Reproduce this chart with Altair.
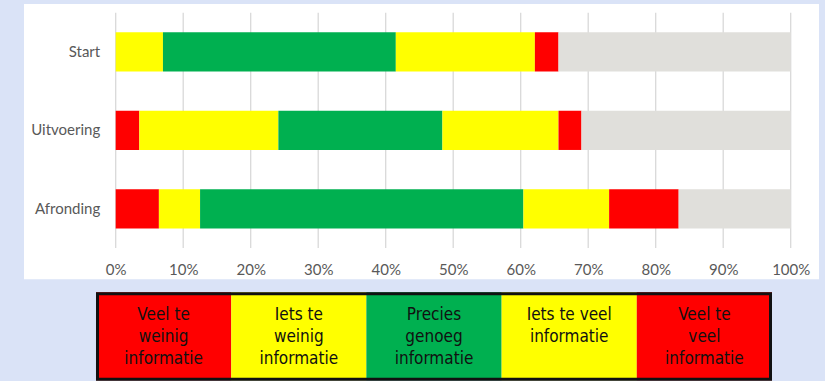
import altair as alt
import pandas as pd

phases = ["Start", "Uitvoering", "Afronding"]
segments = ["Veel te weinig", "Iets te weinig", "Precies genoeg", "Iets te veel", "Veel te veel", "Overig"]
seg_colors = ["#ff0000", "#ffff00", "#00b050", "#ffff00", "#ff0000", "#e0dfdb"]

start_vals = [0.0, 7.0, 34.5, 20.6, 3.5, 34.4]
uitvoering_vals = [3.5, 20.6, 24.3, 17.2, 3.4, 31.0]
afronding_vals = [6.4, 6.1, 47.9, 12.7, 10.3, 16.6]

tick_values = [0, 10, 20, 30, 40, 50, 60, 70, 80, 90, 100]

legend_labels = [
    "Veel te\nweinig\ninformatie",
    "Iets te\nweinig\ninformatie",
    "Precies\ngenoeg\ninformatie",
    "Iets te veel\ninformatie",
    "Veel te\nveel\ninformatie",
]
legend_colors = ["#ff0000", "#ffff00", "#00b050", "#ffff00", "#ff0000"]

rows = []
for ph, vals in zip(phases, [start_vals, uitvoering_vals, afronding_vals]):
    for i, (s, v) in enumerate(zip(segments, vals)):
        rows.append({"fase": ph, "segment": s, "waarde": v, "volgorde": i})
df = pd.DataFrame(rows)

grid_df = pd.DataFrame({"tick": tick_values})
leg_df = pd.DataFrame({"label": legend_labels, "kleur": legend_colors})
bg_df = pd.DataFrame({"k": [0]})

axis_font = "Lato"
axis_color = "#595959"
x_scale = alt.Scale(domain=[0, 100], nice=False)

panel = alt.Chart(bg_df).mark_rect(fill="white").encode(
    x=alt.value(-91.7), x2=alt.value(703.3),
    y=alt.value(-8.7), y2=alt.value(266.6),
)

grid = alt.Chart(grid_df).mark_rule(color="#d9d9d9", strokeWidth=1.3).encode(
    x=alt.X("tick:Q", scale=x_scale, axis=None),
    y=alt.value(0), y2=alt.value(235.3),
)

bars = alt.Chart(df).mark_bar().encode(
    y=alt.Y("fase:N", sort=phases, title=None,
            scale=alt.Scale(paddingInner=0.5, paddingOuter=0.25),
            axis=alt.Axis(domain=False, ticks=False, labelPadding=16,
                          labelFont=axis_font, labelFontSize=15,
                          labelColor=axis_color, zindex=1)),
    x=alt.X("sum(waarde):Q", stack="zero", title=None, scale=x_scale,
            axis=alt.Axis(values=tick_values, labelExpr="datum.value + '%'",
                          domain=False, ticks=False, grid=False,
                          labelFlush=False,
                          labelPadding=14, labelFont=axis_font,
                          labelFontSize=15, labelColor=axis_color, zindex=1)),
    color=alt.Color("segment:N", legend=None,
                    scale=alt.Scale(domain=segments, range=seg_colors)),
    order=alt.Order("volgorde:Q"),
)

leg_x = alt.X("label:N", sort=legend_labels, axis=None, title=None,
              scale=alt.Scale(domain=legend_labels, range=[-19.7, 656.3],
                              paddingInner=0, paddingOuter=0))

leg_cells = alt.Chart(leg_df).mark_rect().encode(
    x=leg_x,
    y=alt.value(279.6), y2=alt.value(367.6),
    fill=alt.Color("kleur:N", scale=None, legend=None),
)

leg_text = alt.Chart(leg_df).mark_text(
    baseline="top", align="center", lineBreak="\n", lineHeight=22,
    font="DejaVu Sans Condensed, Liberation Sans Narrow, Roboto",
    fontSize=17, color="#111111",
).encode(
    x=leg_x,
    y=alt.value(294),
    text="label:N",
)

leg_border = alt.Chart(bg_df).mark_rect(
    fill=None, stroke="#111111", strokeWidth=3,
).encode(
    x=alt.value(-18.2), x2=alt.value(654.8),
    y=alt.value(281.1), y2=alt.value(366.6),
)

chart = alt.layer(panel, grid, bars, leg_cells, leg_text, leg_border).resolve_scale(
    x="independent", y="independent"
).properties(
    width=675, height=235.3,
    padding={"left": 115.7, "top": 12.7, "right": 34.3, "bottom": 133},
    autosize=alt.AutoSizeParams(type="none"),
    background="#dae3f7",
).configure_view(stroke=None)

chart.save("out.html", embed_options={"renderer": "svg", "actions": False})
